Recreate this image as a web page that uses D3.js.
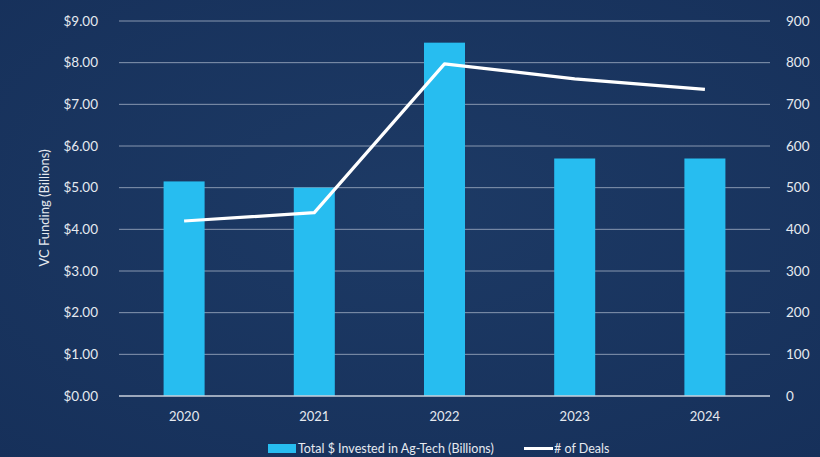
<!DOCTYPE html>
<html><head><meta charset="utf-8">
<script src="https://cdn.jsdelivr.net/npm/d3@7"></script>
<style>
html,body{margin:0;padding:0;background:#1a355e;}
svg{display:block;font-family:Lato,"Open Sans",sans-serif;}
</style></head>
<body>
<svg id="c" width="820" height="457"></svg>
<script>
const years = ["2020","2021","2022","2023","2024"];
const invested = [5.15, 5.0, 8.48, 5.7, 5.7];
const deals = [420, 440, 797, 761, 736];
const leftTicks = [0,1,2,3,4,5,6,7,8,9];
const rightTicks = [0,100,200,300,400,500,600,700,800,900];

const svg = d3.select("#c");
const W=820,H=457;
const defs = svg.append("defs");
const g1 = defs.append("radialGradient").attr("id","bg").attr("cx","50%").attr("cy","45%").attr("r","75%");
g1.append("stop").attr("offset","0%").attr("stop-color","#1d3a65");
g1.append("stop").attr("offset","100%").attr("stop-color","#16305a");
svg.append("rect").attr("width",W).attr("height",H).attr("fill","url(#bg)");

const m={l:119,r:770,t:21,b:396};
const x = d3.scaleBand().domain(years).range([m.l,m.r]).paddingInner(0.685).paddingOuter(0.3425);
const yL = d3.scaleLinear().domain([0,9]).range([m.b,m.t]);
const yR = d3.scaleLinear().domain([0,900]).range([m.b,m.t]);

// gridlines
svg.append("g").selectAll("line").data(leftTicks.filter(d=>d>0)).join("line")
  .attr("x1",m.l).attr("x2",m.r).attr("y1",d=>yL(d)).attr("y2",d=>yL(d))
  .attr("stroke","#8797b0").attr("stroke-width",1);

// bars
svg.append("g").selectAll("rect").data(years).join("rect")
  .attr("x",d=>x(d)).attr("width",x.bandwidth())
  .attr("y",(d,i)=>yL(invested[i])).attr("height",(d,i)=>m.b-yL(invested[i]))
  .attr("fill","#27bdf0");

// baseline
svg.append("line").attr("x1",m.l).attr("x2",m.r).attr("y1",m.b).attr("y2",m.b)
  .attr("stroke","#c9d0dc").attr("stroke-width",1.3);

// line
const line = d3.line().x((d,i)=>x(years[i])+x.bandwidth()/2).y(d=>yR(d));
svg.append("path").datum(deals).attr("d",line).attr("fill","none")
  .attr("stroke","#ffffff").attr("stroke-width",3.2).attr("stroke-linejoin","round");

// left axis
const axL = d3.axisLeft(yL).tickValues(leftTicks).tickFormat(d=>"$"+d3.format(".2f")(d)).tickSize(0).tickPadding(21);
const gL = svg.append("g").attr("transform",`translate(${m.l},0)`).call(axL);
gL.select(".domain").remove();
gL.selectAll("text").attr("fill","#e6eaf0").attr("font-size",13.5).attr("font-family","Lato,sans-serif");

// right axis
const axR = d3.axisRight(yR).tickValues(rightTicks).tickSize(0).tickPadding(16);
const gR = svg.append("g").attr("transform",`translate(${m.r},0)`).call(axR);
gR.select(".domain").remove();
gR.selectAll("text").attr("fill","#e6eaf0").attr("font-size",13.5).attr("font-family","Lato,sans-serif");

// bottom axis
const axB = d3.axisBottom(x).tickSize(0).tickPadding(16);
const gB = svg.append("g").attr("transform",`translate(0,${m.b})`).call(axB);
gB.select(".domain").remove();
gB.selectAll("text").attr("fill","#e6eaf0").attr("font-size",13).attr("font-family","Lato,sans-serif");

// y title
svg.append("text").attr("transform","translate(49,208) rotate(-90)").attr("text-anchor","middle")
  .attr("fill","#e6eaf0").attr("font-size",13).text("VC Funding (Billions)");

// legend
const lg = svg.append("g");
lg.append("rect").attr("x",268).attr("y",444).attr("width",28).attr("height",9).attr("fill","#27bdf0");
lg.append("text").attr("x",298).attr("y",453).attr("fill","#e6eaf0").attr("font-size",12.5).text("Total $ Invested in Ag-Tech (Billions)");
lg.append("line").attr("x1",524).attr("x2",553).attr("y1",448.5).attr("y2",448.5).attr("stroke","#fff").attr("stroke-width",3);
lg.append("text").attr("x",554).attr("y",453).attr("fill","#e6eaf0").attr("font-size",12.5).text("# of Deals");
</script>
</body></html>
